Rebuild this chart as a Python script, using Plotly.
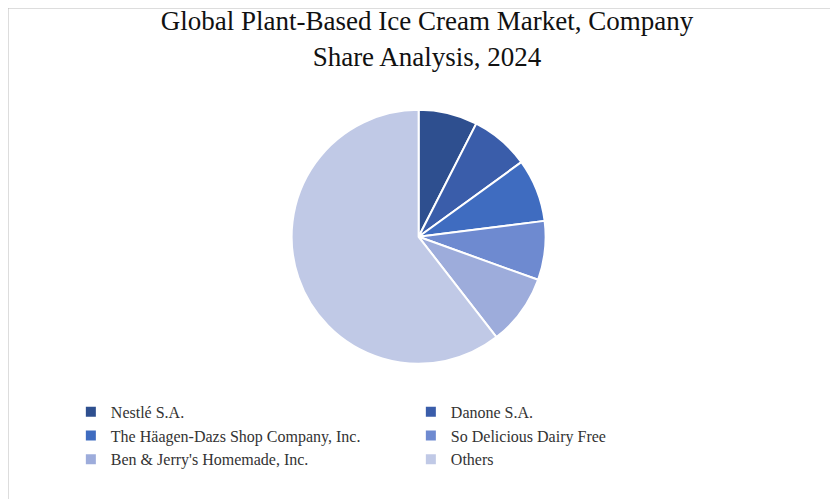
import plotly.graph_objects as go

companies = ["Nestlé S.A.", "Danone S.A.", "The Häagen-Dazs Shop Company, Inc.",
             "So Delicious Dairy Free", "Ben & Jerry's Homemade, Inc.", "Others"]
shares = [7.5, 7.5, 8.0, 7.5, 9.0, 60.5]
colors = ["#2E4F8F", "#3A5DAA", "#3F6CC0", "#6E8AD0", "#9DACDB", "#C0C9E6"]

fig = go.Figure(go.Pie(
    labels=companies, values=shares, sort=False, direction="clockwise", rotation=0,
    marker=dict(colors=colors, line=dict(color="white", width=2)),
    textinfo="none", hoverinfo="label+percent",
    domain=dict(x=[0.19, 0.79], y=[0.287, 0.796]),
))
fig.update_layout(
    width=838, height=499, paper_bgcolor="white", plot_bgcolor="white",
    margin=dict(l=0, r=0, t=0, b=0),
    font=dict(family="Liberation Serif", color="#222"),
    title=dict(text="Global Plant-Based Ice Cream Market, Company<br>Share Analysis, 2024",
               x=0.5, xanchor="center", xref="paper", yref="container", y=0.955, yanchor="top",
               font=dict(size=27, family="Liberation Serif", color="#111")),
    legend=dict(orientation="h", x=0.075, xanchor="left", y=0.225, yanchor="top",
                entrywidth=295, entrywidthmode="pixels", traceorder="normal",
                font=dict(size=16, family="Liberation Serif", color="#333"),
                itemwidth=30, tracegroupgap=0),
    shapes=[dict(type="rect", xref="paper", yref="paper", x0=0, y0=0, x1=1, y1=1,
                 line=dict(color="#BBBBBB", width=1))],
)
fig.write_html("out.html")
